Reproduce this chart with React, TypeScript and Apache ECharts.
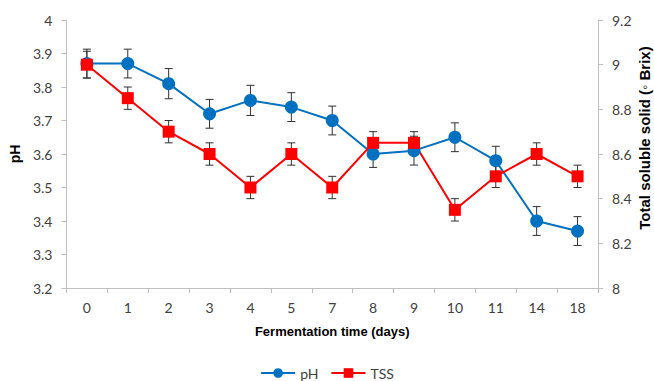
import React, { useEffect, useRef } from "react";
import * as echarts from "echarts";

const days = ["0", "1", "2", "3", "4", "5", "7", "8", "9", "10", "11", "14", "18"];
const phValues = [3.87, 3.87, 3.81, 3.72, 3.76, 3.74, 3.7, 3.6, 3.61, 3.65, 3.58, 3.4, 3.37];
const phErrors = [0.043, 0.043, 0.045, 0.043, 0.045, 0.043, 0.043, 0.04, 0.043, 0.043, 0.043, 0.043, 0.043];
const tssValues = [9.0, 8.85, 8.7, 8.6, 8.45, 8.6, 8.45, 8.65, 8.65, 8.35, 8.5, 8.6, 8.5];
const tssErrors = [0.06, 0.05, 0.05, 0.05, 0.05, 0.05, 0.05, 0.05, 0.05, 0.05, 0.05, 0.05, 0.05];
const rightAxisTitle = "Total soluble solid (◦ Brix)";

const FONT = "Lato, 'Open Sans', sans-serif";
const BOLD_FONT = "'Liberation Sans Narrow', 'Liberation Sans', Arial, sans-serif";

function errorSeries(values: number[], errors: number[], yAxisIndex: number) {
  return {
    type: "custom",
    yAxisIndex,
    z: 1,
    silent: true,
    data: values.map((v, i) => [i, v - errors[i], v + errors[i]]),
    renderItem: (params: any, api: any) => {
      const x = api.value(0);
      const lo = api.coord([x, api.value(1)]);
      const hi = api.coord([x, api.value(2)]);
      const w = 4;
      const style = { stroke: "#303030", lineWidth: 1 };
      return {
        type: "group",
        children: [
          { type: "line", shape: { x1: lo[0], y1: lo[1], x2: hi[0], y2: hi[1] }, style },
          { type: "line", shape: { x1: lo[0] - w, y1: lo[1], x2: lo[0] + w, y2: lo[1] }, style },
          { type: "line", shape: { x1: hi[0] - w, y1: hi[1], x2: hi[0] + w, y2: hi[1] }, style },
        ],
      };
    },
  };
}

export default function App() {
  const ref = useRef<HTMLDivElement>(null);
  useEffect(() => {
    if (!ref.current) return;
    const chart = echarts.init(ref.current, undefined, { renderer: "svg" });
    const axisLine = { show: true, lineStyle: { color: "#bfbfbf", width: 1 } };
    const axisLabel = { color: "#404040", fontSize: 14, fontFamily: FONT };
    chart.setOption({
      animation: false,
      backgroundColor: "#ffffff",
      grid: { left: 65, right: 56, top: 20, bottom: 93 },
      legend: {
        top: 366,
        padding: 0,
        left: "center",
        itemWidth: 34,
        itemHeight: 12,
        itemGap: 12,
        textStyle: { color: "#404040", fontSize: 14, fontFamily: FONT },
        data: ["pH", "TSS"],
      },
      graphic: [
        {
          type: "text",
          x: 644,
          y: 138,
          rotation: Math.PI / 2,
          style: {
            text: rightAxisTitle,
            fill: "#000",
            fontSize: 15,
            fontWeight: "bold",
            fontFamily: BOLD_FONT,
            textAlign: "center",
            textVerticalAlign: "middle",
          },
        },
      ],
      xAxis: {
        type: "category",
        data: days,
        boundaryGap: true,
        axisLine,
        axisTick: { show: true, length: 5, lineStyle: { color: "#bfbfbf" } },
        axisLabel: { ...axisLabel, margin: 12 },
        name: "Fermentation time (days)",
        nameLocation: "middle",
        nameGap: 37,
        nameTextStyle: { fontWeight: "bold", fontSize: 13, color: "#000", fontFamily: BOLD_FONT },
      },
      yAxis: [
        {
          type: "value",
          min: 3.2,
          max: 4,
          interval: 0.1,
          axisLine,
          axisTick: { show: true, length: 5, lineStyle: { color: "#bfbfbf" } },
          splitLine: { show: false },
          axisLabel: { ...axisLabel, margin: 14, formatter: (v: number) => String(Math.round(v * 10) / 10) },
          name: "pH",
          nameLocation: "middle",
          nameGap: 37,
          nameTextStyle: { fontWeight: "bold", fontSize: 14, color: "#000", fontFamily: BOLD_FONT },
        },
        {
          type: "value",
          min: 8,
          max: 9.2,
          interval: 0.2,
          position: "right",
          axisLine,
          axisTick: { show: true, length: 5, lineStyle: { color: "#bfbfbf" } },
          splitLine: { show: false },
          axisLabel: { ...axisLabel, margin: 14, formatter: (v: number) => String(Math.round(v * 10) / 10) },
        },
      ],
      series: [
        errorSeries(phValues, phErrors, 0),
        errorSeries(tssValues, tssErrors, 1),
        {
          name: "pH",
          type: "line",
          yAxisIndex: 0,
          z: 3,
          data: phValues,
          symbol: "circle",
          symbolSize: 13,
          itemStyle: { color: "#0070C0" },
          lineStyle: { color: "#0070C0", width: 2 },
        },
        {
          name: "TSS",
          type: "line",
          yAxisIndex: 1,
          z: 3,
          data: tssValues,
          symbol: "rect",
          symbolSize: 12,
          itemStyle: { color: "#FF0000" },
          lineStyle: { color: "#FF0000", width: 2 },
        },
      ],
    });
    return () => chart.dispose();
  }, []);
  return (
    <div
      ref={ref}
      style={{ position: "absolute", left: 0, top: 0, width: 654, height: 381 }}
    />
  );
}
